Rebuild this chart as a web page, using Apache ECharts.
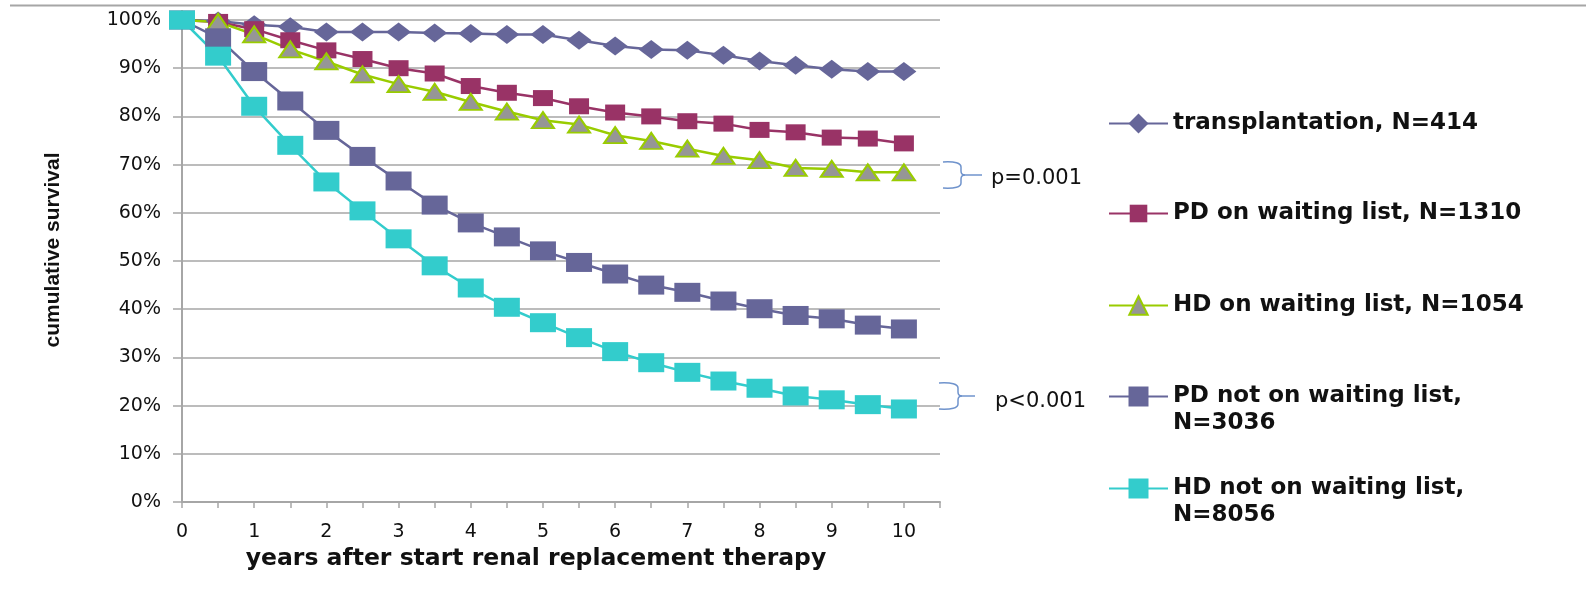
<!DOCTYPE html>
<html>
<head>
<meta charset="utf-8">
<script src="https://cdn.jsdelivr.net/npm/echarts@6/dist/echarts.min.js"></script>
<style>
  html, body { margin: 0; padding: 0; background: #fff; }
  #chart { width: 1586px; height: 602px; }
</style>
</head>
<body>
<div id="chart"></div>
<script>
// Years after start of renal replacement therapy (half-year steps)
const years = [0, 0.5, 1, 1.5, 2, 2.5, 3, 3.5, 4, 4.5, 5, 5.5, 6, 6.5, 7, 7.5, 8, 8.5, 9, 9.5, 10];

// Cumulative survival (%) per group
const transplantation = [100, 99.8, 99.0, 98.6, 97.5, 97.5, 97.5, 97.3, 97.2, 97.0, 97.0, 95.8, 94.6, 93.9, 93.7, 92.7, 91.5, 90.6, 89.8, 89.3, 89.3];
const pdWaiting       = [100, 99.6, 98.1, 95.8, 93.7, 91.9, 90.0, 88.9, 86.3, 84.9, 83.8, 82.1, 80.8, 80.0, 79.0, 78.5, 77.2, 76.7, 75.6, 75.4, 74.4];
const hdWaiting       = [100, 99.6, 97.0, 93.9, 91.4, 88.7, 86.7, 85.1, 83.0, 81.0, 79.2, 78.3, 76.1, 74.9, 73.3, 71.8, 70.9, 69.3, 69.1, 68.4, 68.4];
const pdNotWaiting    = [100, 96.3, 89.3, 83.2, 77.1, 71.7, 66.6, 61.6, 57.9, 55.0, 52.1, 49.7, 47.3, 45.0, 43.5, 41.7, 40.1, 38.7, 38.0, 36.7, 35.9];
const hdNotWaiting    = [100, 92.5, 82.1, 74.0, 66.4, 60.4, 54.6, 49.0, 44.4, 40.4, 37.2, 34.1, 31.2, 28.9, 26.9, 25.1, 23.6, 22.0, 21.2, 20.2, 19.3];

// Group names as shown in the legend
const groupNames = [
  'transplantation, N=414',
  'PD on waiting list, N=1310',
  'HD on waiting list, N=1054',
  'PD not on waiting list,\nN=3036',
  'HD not on waiting list,\nN=8056'
];
const groupValues = [transplantation, pdWaiting, hdWaiting, pdNotWaiting, hdNotWaiting];

// Significance labels next to the right end of the curves
const pLabels = ['p=0.001', 'p<0.001'];

const styles = [
  { color: '#666699', symbol: 'diamond', size: [25, 19] },
  { color: '#993366', symbol: 'rect', size: [20, 16] },
  { color: '#99CC00', symbol: 'triangle', size: [22, 16], fill: '#969696' },
  { color: '#666699', symbol: 'rect', size: [26, 19] },
  { color: '#33CCCC', symbol: 'rect', size: [26, 19] }
];

const series = groupNames.map((name, i) => {
  const s = styles[i];
  return {
    name: name,
    type: 'line',
    data: years.map((x, k) => [x, groupValues[i][k]]),
    symbol: s.symbol,
    symbolSize: s.size,
    showAllSymbol: true,
    lineStyle: { color: s.color, width: 2.5 },
    itemStyle: s.fill
      ? { color: s.fill, borderColor: s.color, borderWidth: 2 }
      : { color: s.color, borderWidth: 0 },
    emphasis: { disabled: true }
  };
});

// One legend block per group so each entry sits at its own height.
// Two-line names get an empty leading line so the marker lines up with the first text line.
const legendTops = [110, 200, 292, 356, 448];
const legendHeights = [25, 22, 23, 25, 25];
const legends = groupNames.map((name, i) => ({
  data: [name],
  left: 1108,
  top: legendTops[i],
  padding: 0,
  orient: 'vertical',
  itemWidth: 59,
  itemHeight: legendHeights[i],
  selectedMode: false,
  formatter: n => (n.indexOf('\n') >= 0 ? ' \n' + n : n),
  textStyle: {
    fontFamily: 'DejaVu Sans',
    fontWeight: 'bold',
    fontSize: 23,
    color: '#111',
    lineHeight: 27
  }
}));

// Curly brace "}" built from quadratic curves and straight segments
function brace(x0, xs, xe, y0, y1) {
  const ym = (y0 + y1) / 2;
  const st = { stroke: '#6f93cc', lineWidth: 1.5, fill: null };
  const curve = (x1, y1_, cx, cy, x2, y2) => ({
    type: 'bezierCurve', silent: true, style: st,
    shape: { x1: x1, y1: y1_, x2: x2, y2: y2, cpx1: cx, cpy1: cy }
  });
  const seg = (x1, y1_, x2, y2) => ({
    type: 'line', silent: true, style: st,
    shape: { x1: x1, y1: y1_, x2: x2, y2: y2 }
  });
  return [
    curve(x0, y0, xs, y0 - 1, xs, y0 + 5),
    seg(xs, y0 + 5, xs, ym - 4),
    curve(xs, ym - 4, xs, ym, xs + 4, ym),
    seg(xs + 4, ym, xe, ym),
    curve(xs + 4, ym, xs, ym, xs, ym + 4),
    seg(xs, ym + 4, xs, y1 - 5),
    curve(xs, y1 - 5, xs, y1 + 1, x0, y1)
  ];
}

const chart = echarts.init(document.getElementById('chart'), null, { renderer: 'canvas' });
chart.setOption({
  animation: false,
  backgroundColor: '#fff',
  grid: { left: 182, right: 646, top: 20, bottom: 100, containLabel: false },
  xAxis: {
    type: 'value',
    min: 0,
    max: 10.5,
    interval: 0.5,
    name: 'years after start renal replacement therapy',
    nameLocation: 'middle',
    nameGap: 41,
    nameTextStyle: {
      fontFamily: 'DejaVu Sans', fontWeight: 'bold', fontSize: 23.5, color: '#111',
      padding: [0, 50, 0, 0]
    },
    axisLine: { lineStyle: { color: '#a6a6a6', width: 2 } },
    axisTick: { show: true, length: 6, lineStyle: { color: '#a6a6a6', width: 1.5 } },
    axisLabel: {
      margin: 21,
      fontFamily: 'DejaVu Sans', fontSize: 19, color: '#111',
      formatter: v => (Number.isInteger(v) ? String(v) : '')
    },
    splitLine: { show: false }
  },
  yAxis: {
    type: 'value',
    min: 0,
    max: 100,
    interval: 10,
    name: 'cumulative survival',
    nameLocation: 'middle',
    nameGap: 118,
    nameTextStyle: {
      fontFamily: 'Liberation Sans', fontWeight: 'bold', fontSize: 21, color: '#111',
      padding: [0, 0, 0, 22]
    },
    axisLine: { show: true, lineStyle: { color: '#a6a6a6', width: 2 } },
    axisTick: { show: true, length: 9, lineStyle: { color: '#a6a6a6', width: 1.5 } },
    axisLabel: {
      margin: 21,
      fontFamily: 'DejaVu Sans', fontSize: 19, color: '#111',
      formatter: '{value}%'
    },
    splitLine: { show: true, lineStyle: { color: '#a6a6a6', width: 1.5 } }
  },
  legend: legends,
  series: series,
  graphic: [
    { type: 'line', shape: { x1: 10, y1: 5.5, x2: 1586, y2: 5.5 }, style: { stroke: '#a6a6a6', lineWidth: 2 }, silent: true },
    ...brace(943, 961, 982, 162, 188),
    ...brace(939, 958, 975, 383, 409),
    { type: 'text', left: 991, top: 168, style: { text: pLabels[0], fontFamily: 'DejaVu Sans', fontSize: 21, fill: '#111' }, silent: true },
    { type: 'text', left: 995, top: 391, style: { text: pLabels[1], fontFamily: 'DejaVu Sans', fontSize: 21, fill: '#111' }, silent: true }
  ]
});
</script>
</body>
</html>
